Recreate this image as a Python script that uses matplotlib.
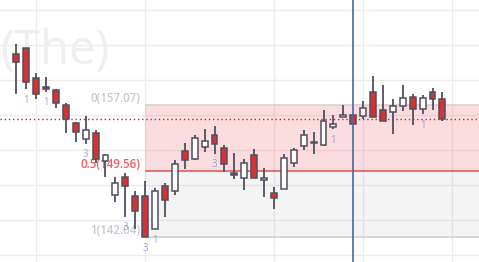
import matplotlib
matplotlib.use("Agg")
import matplotlib.pyplot as plt
from matplotlib.patches import Rectangle

# OHLC, one entry per candle (left to right)
opens = [162.93, 163.58, 160.15, 159.13, 158.82, 157.07, 155.05, 153.19, 153.87, 150.68,
         146.80, 148.85, 146.68, 146.68, 142.92, 147.82, 147.25, 151.82, 150.91, 152.28,
         153.68, 152.16, 149.35, 148.74, 151.36, 148.51, 147.02, 147.56, 150.45, 152.39,
         152.81, 152.58, 154.56, 155.70, 155.93, 155.81, 158.55, 156.50, 156.27, 156.96,
         157.98, 156.61, 158.55, 157.76]
highs = [164.03, 163.62, 160.80, 160.30, 158.97, 157.30, 155.21, 155.85, 154.25, 151.51,
         148.89, 149.35, 147.25, 148.43, 147.67, 148.24, 150.83, 152.73, 153.65, 154.37,
         154.71, 152.54, 151.63, 150.91, 152.09, 149.92, 147.71, 151.48, 152.20, 154.22,
         153.99, 156.54, 155.97, 157.11, 155.95, 157.53, 160.42, 159.35, 157.79, 159.35,
         158.33, 158.21, 159.01, 158.55]
lows = [158.40, 158.93, 157.76, 158.63, 156.80, 153.87, 152.85, 152.69, 150.45, 148.93,
        146.00, 144.36, 142.99, 142.04, 142.92, 144.36, 146.80, 149.84, 150.79, 151.78,
        151.55, 149.42, 148.62, 147.44, 148.74, 146.64, 145.20, 147.48, 149.99, 152.01,
        151.48, 152.47, 154.33, 155.70, 154.90, 155.51, 155.70, 155.24, 153.76, 156.39,
        154.79, 156.04, 156.50, 155.24]
closes = [162.05, 159.70, 158.40, 158.90, 157.30, 155.55, 153.99, 154.22, 150.98, 151.40,
          148.20, 147.82, 144.97, 142.04, 147.25, 146.23, 150.37, 150.79, 153.30, 152.96,
          152.69, 150.41, 149.12, 150.45, 148.74, 148.74, 146.45, 151.02, 151.93, 153.65,
          152.88, 155.24, 154.90, 155.93, 154.90, 156.73, 155.70, 155.24, 156.96, 157.87,
          156.61, 157.87, 157.76, 155.47]

# small count labels under some candles
mark_idx = [1, 3, 7, 11, 13, 14, 20, 32, 41]
mark_txt = ["1", "1", "3", "3", "3", "1", "3", "1", "1"]

# fibonacci retracement
fib_start = 13
fib_levels = [0, 0.5, 1]
fib_prices = [157.07, 149.56, 142.04]

grid_prices = [140, 144, 148, 152, 156, 160, 164, 168]
grid_idx = [2, 13, 26, 35, 44]
cursor_idx = 34
watermark = "(The)"

RED = "#d63234"
EDGE = "#50505e"

fig = plt.figure(figsize=(4.79, 2.62), dpi=100)
ax = fig.add_axes([0, 0, 1, 1])
ax.set_xlim(-1.645, 46.69)
ax.set_ylim(139.19, 169.09)
ax.axis("off")

for p in grid_prices:
    ax.axhline(p, color="#ececec", lw=1.0, zorder=0)
for i in grid_idx:
    ax.axvline(i, color="#ececec", lw=1.0, zorder=0)

ax.text(-1.6, 161.75, watermark, fontsize=34, color="#efefef", va="baseline",
        ha="left", family="Open Sans", zorder=0.5)

# fib zones
x_end = 50
ax.add_patch(Rectangle((fib_start, fib_prices[1]), x_end - fib_start,
                       fib_prices[0] - fib_prices[1], facecolor="#f23645",
                       alpha=0.17, lw=0, zorder=1))
ax.add_patch(Rectangle((fib_start, fib_prices[2]), x_end - fib_start,
                       fib_prices[1] - fib_prices[2], facecolor="#9598a1",
                       alpha=0.1, lw=0, zorder=1))
line_cols = ["#d6d2d8", "#e25c62", "#cfd0d8"]
text_cols = ["#c8cad3", "#ef5b60", "#c8cad3"]
for lvl, pr, lc, tc in zip(fib_levels, fib_prices, line_cols, text_cols):
    ax.hlines(pr, fib_start, x_end, color=lc, lw=1.2, zorder=1.5)
    ax.annotate(f"{lvl:g}({pr:.2f})", (fib_start, pr), xytext=(-3.5, 5),
                textcoords="offset points", ha="right", va="center",
                fontsize=8.3, color=tc, family="Open Sans", fontweight="semibold",
                zorder=1.6)

# last price line
ax.axhline(closes[-1], color="#c0282e", lw=1.0, ls=(0, (1, 2)), zorder=2)

# candles
w = 0.6
for i, (o, h, l, c) in enumerate(zip(opens, highs, lows, closes)):
    fill = RED if c < o else "white"
    ax.vlines(i, l, h, color=EDGE, lw=1.3, zorder=3)
    ax.add_patch(Rectangle((i - w / 2, min(o, c)), w, max(abs(c - o), 0.05),
                           facecolor=fill, edgecolor=EDGE, lw=1.1, zorder=4))

for i, t in zip(mark_idx, mark_txt):
    ax.annotate(t, (i, lows[i]), xytext=(0, -8), textcoords="offset points",
                ha="center", va="center", fontsize=7, color="#7f93d8",
                alpha=0.8, family="Open Sans", zorder=5)

ax.axvline(cursor_idx, color="#4a67a6", lw=1.2, zorder=6)

fig.savefig("out.png", dpi=100)
